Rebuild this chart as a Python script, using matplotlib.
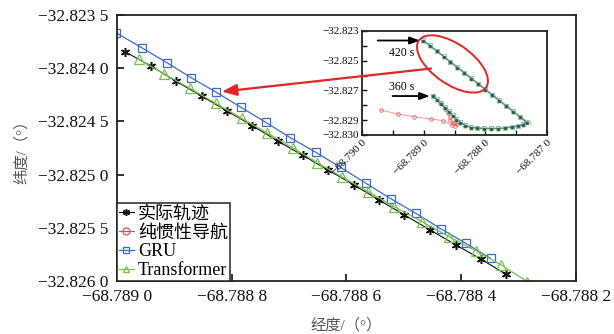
import matplotlib
matplotlib.use("Agg")
import matplotlib.pyplot as plt
from matplotlib.patches import Ellipse, ConnectionPatch
from matplotlib.transforms import IdentityTransform
from matplotlib.ticker import FixedLocator, FuncFormatter

plt.rcParams['font.family'] = ['Liberation Serif', 'Noto Sans CJK SC']

# ---------------- data (main view) ----------------
actual_lon = [-68.788986, -68.788941, -68.788897, -68.788852, -68.788809, -68.788764,
              -68.788720, -68.788676, -68.788632, -68.788587, -68.788543, -68.788499,
              -68.788454, -68.788410, -68.788366, -68.788322]
actual_lat = [-32.823845, -32.823979, -32.824123, -32.824264, -32.824399, -32.824540,
              -32.824684, -32.824820, -32.824957, -32.825098, -32.825239, -32.825380,
              -32.825521, -32.825659, -32.825793, -32.825937]

gru_lon = [-68.789002, -68.788957, -68.788913, -68.788871, -68.788827, -68.788784,
           -68.788741, -68.788698, -68.788653, -68.788610, -68.788566, -68.788523,
           -68.788479, -68.788436, -68.788392, -68.788349]
gru_lat = [-32.823666, -32.823807, -32.823948, -32.824089, -32.824226, -32.824367,
           -32.824508, -32.824653, -32.824792, -32.824933, -32.825082, -32.825226,
           -32.825364, -32.825508, -32.825646, -32.825787]

trans_lon = [-68.788962, -68.788918, -68.788873, -68.788828, -68.788783, -68.788739,
             -68.788694, -68.788651, -68.788607, -68.788562, -68.788517, -68.788468,
             -68.788421, -68.788375, -68.788331, -68.788285]
trans_lat = [-32.823916, -32.824054, -32.824189, -32.824330, -32.824471, -32.824606,
             -32.824747, -32.824888, -32.825025, -32.825161, -32.825302, -32.825443,
             -32.825584, -32.825715, -32.825848, -32.826005]

# ---------------- data (inset, 360 s - 420 s) ----------------
inset_actual_lon = [-68.788855, -68.788790, -68.788726, -68.788661, -68.788597, -68.788532,
                    -68.788468, -68.788403, -68.788323, -68.788226, -68.788129, -68.788016,
                    -68.787903, -68.787790, -68.787677, -68.787565, -68.787468, -68.787387,
                    -68.787323, -68.787436, -68.787548, -68.787661, -68.787774, -68.787887,
                    -68.788000, -68.788113, -68.788226, -68.788339, -68.788452, -68.788565,
                    -68.788677, -68.788790, -68.788903, -68.789016]
inset_actual_lat = [-32.827377, -32.827613, -32.827882, -32.828152, -32.828421, -32.828690,
                    -32.828960, -32.829162, -32.829364, -32.829498, -32.829532, -32.829566,
                    -32.829566, -32.829566, -32.829532, -32.829465, -32.829397, -32.829296,
                    -32.829162, -32.828791, -32.828421, -32.828051, -32.827680, -32.827310,
                    -32.826939, -32.826569, -32.826199, -32.825828, -32.825458, -32.825088,
                    -32.824717, -32.824347, -32.823976, -32.823640]

inset_gru_lon = [-68.788855, -68.788790, -68.788726, -68.788661, -68.788597, -68.788532,
                 -68.788468, -68.788403, -68.788323, -68.788226, -68.788129, -68.788016,
                 -68.787903, -68.787790, -68.787677, -68.787565, -68.787468, -68.787387,
                 -68.787340, -68.787436, -68.787548, -68.787661, -68.787774, -68.787887,
                 -68.788000, -68.788113, -68.788226, -68.788339, -68.788452, -68.788565,
                 -68.788677, -68.788790, -68.788903, -68.789016]
inset_gru_lat = [-32.827360, -32.827600, -32.827870, -32.828140, -32.828410, -32.828680,
                 -32.828950, -32.829150, -32.829350, -32.829490, -32.829525, -32.829560,
                 -32.829560, -32.829560, -32.829525, -32.829455, -32.829385, -32.829280,
                 -32.829140, -32.828775, -32.828405, -32.828035, -32.827665, -32.827295,
                 -32.826925, -32.826555, -32.826185, -32.825815, -32.825445, -32.825075,
                 -32.824705, -32.824335, -32.823965, -32.823625]

inset_trans_lon = [-68.788855, -68.788790, -68.788726, -68.788661, -68.788597, -68.788532,
                   -68.788468, -68.788403, -68.788323, -68.788226, -68.788129, -68.788016,
                   -68.787903, -68.787790, -68.787677, -68.787565, -68.787468, -68.787387,
                   -68.787300, -68.787436, -68.787548, -68.787661, -68.787774, -68.787887,
                   -68.788000, -68.788113, -68.788226, -68.788339, -68.788452, -68.788565,
                   -68.788677, -68.788790, -68.788903, -68.789016]
inset_trans_lat = [-32.827385, -32.827620, -32.827890, -32.828160, -32.828430, -32.828700,
                   -32.828970, -32.829170, -32.829370, -32.829505, -32.829540, -32.829570,
                   -32.829570, -32.829570, -32.829540, -32.829470, -32.829400, -32.829300,
                   -32.829130, -32.828790, -32.828420, -32.828050, -32.827680, -32.827310,
                   -32.826940, -32.826570, -32.826200, -32.825830, -32.825460, -32.825090,
                   -32.824720, -32.824350, -32.823980, -32.823650]

ins_lon = [-68.788855, -68.788742, -68.788661, -68.788613, -68.788581, -68.788565,
           -68.788532, -68.788484, -68.788452, -68.788500, -68.788548, -68.788694,
           -68.788887, -68.789161, -68.789419, -68.789694]
ins_lat = [-32.827377, -32.827815, -32.828219, -32.828488, -32.828758, -32.828993,
           -32.829195, -32.829364, -32.829263, -32.829162, -32.829330, -32.829027,
           -32.828926, -32.828758, -32.828589, -32.828320]

labels = ['实际轨迹', '纯惯性导航', 'GRU', 'Transformer']
main_xticks = [-68.7890, -68.7888, -68.7886, -68.7884, -68.7882]
main_yticks = [-32.8260, -32.8255, -32.8250, -32.8245, -32.8240, -32.8235]
inset_xticks = [-68.7900, -68.7895, -68.7890, -68.7885, -68.7880, -68.7875, -68.7870]
inset_xlabeled = [-68.7900, -68.7890, -68.7880, -68.7870]
inset_yticks = [-32.830, -32.829, -32.828, -32.827, -32.826, -32.825, -32.824, -32.823]
inset_ylabeled = [-32.830, -32.829, -32.827, -32.825, -32.823]

C_BLACK = '#111111'
C_RED = '#e8474a'
C_BLUE = '#3d6cc4'
C_GREEN = '#78c04f'
STAR = (6, 2, 0)


def fmt4(v, pos=None):
    s = f"{v:.4f}".replace('-', '\u2212')
    return s[:-1] + ' ' + s[-1]


fig = plt.figure(figsize=(6.14, 3.34), dpi=100)
ax = fig.add_axes([117 / 614, 53 / 334, 459 / 614, 266 / 334])

ax.plot(actual_lon, actual_lat, color=C_BLACK, lw=0.8, marker=STAR, ms=6.5, mew=1.1,
        mec=C_BLACK, label=labels[0])
ax.plot(ins_lon, ins_lat, color=C_RED, lw=0.8, marker='o', ms=6, mfc='none', mec=C_RED,
        mew=0.9, label=labels[1])
ax.plot(gru_lon, gru_lat, color=C_BLUE, lw=0.9, marker='s', ms=6, mfc='none', mec=C_BLUE,
        mew=0.9, label=labels[2])
ax.plot(trans_lon, trans_lat, color=C_GREEN, lw=0.9, marker='^', ms=7, mfc='none',
        mec=C_GREEN, mew=0.9, label=labels[3])

ax.set_xlim(-68.7890, -68.7882)
ax.set_ylim(-32.8260, -32.8235)
ax.xaxis.set_major_locator(FixedLocator(main_xticks))
ax.yaxis.set_major_locator(FixedLocator(main_yticks))
ax.xaxis.set_major_formatter(FuncFormatter(fmt4))
ax.yaxis.set_major_formatter(FuncFormatter(fmt4))
ax.tick_params(direction='in', length=5, width=1.2, labelsize=12.5, pad=6,
               top=False, right=False, colors='#111111')
for sp in ax.spines.values():
    sp.set_linewidth(1.3)
    sp.set_color('#222222')

ax.set_xlabel('经度/（°）', fontsize=11, color='#555555', labelpad=9)
ax.set_ylabel('纬度/（°）', fontsize=11, color='#555555', labelpad=7)

leg = ax.legend(loc='lower left', bbox_to_anchor=(0, 0), borderaxespad=0,
                fontsize=13, handlelength=0.8, handletextpad=0.25, borderpad=0.12,
                labelspacing=0.1, fancybox=False, framealpha=1, edgecolor='#222222')
leg.get_frame().set_linewidth(1.1)
for h in leg.legend_handles:
    h.set_markersize(5)

# ---------------- inset ----------------
ins = fig.add_axes([362 / 614, (334 - 135) / 334, 185 / 614, 104 / 334])
ins.plot(ins_lon, ins_lat, color='#f29a9a', lw=0.7, marker='o', ms=2.6, mfc='none',
         mec='#e86060', mew=0.6, zorder=2)
ins.plot(inset_gru_lon, inset_gru_lat, color='#7fa2dc', lw=1.2, marker='s', ms=2.4,
         mfc='none', mec='#7fa2dc', mew=0.6, zorder=3)
ins.plot(inset_trans_lon, inset_trans_lat, color='#8fcf6a', lw=1.0, marker='^', ms=2.4,
         mfc='none', mec='#8fcf6a', mew=0.6, zorder=4)
ins.plot(inset_actual_lon, inset_actual_lat, color='#4a7a5a', lw=0.5, marker=STAR, ms=2.0,
         mew=0.7, mec='#2f5a45', zorder=5)

ins.set_xlim(-68.7900, -68.7870)
ins.set_ylim(-32.8300, -32.8230)
ins.xaxis.set_major_locator(FixedLocator(inset_xticks))
ins.yaxis.set_major_locator(FixedLocator(inset_yticks))


def inset_xfmt(v, pos=None):
    if any(abs(v - t) < 1e-7 for t in inset_xlabeled):
        return fmt4(v)
    return ''


def inset_yfmt(v, pos=None):
    if any(abs(v - t) < 1e-7 for t in inset_ylabeled):
        return f"{v:.3f}".replace('-', '\u2212')
    return ''


ins.xaxis.set_major_formatter(FuncFormatter(inset_xfmt))
ins.yaxis.set_major_formatter(FuncFormatter(inset_yfmt))
ins.tick_params(direction='in', length=3.5, width=1.0, labelsize=8, pad=2,
                top=False, right=False, colors='#111111')
for lab in ins.get_xticklabels():
    lab.set_rotation(45)
    lab.set_ha('right')
    lab.set_va('top')
    lab.set_rotation_mode('anchor')
for sp in ins.spines.values():
    sp.set_linewidth(1.3)
    sp.set_color('#222222')

# time arrows
ins.annotate('', xy=(inset_actual_lon[-1], inset_actual_lat[-1]), xycoords='data',
             xytext=(-45, 0), textcoords='offset pixels',
             arrowprops=dict(arrowstyle='-|>,head_length=0.6,head_width=0.22', color='k',
                             lw=1.3, shrinkA=0, shrinkB=2))
ins.annotate('', xy=(inset_actual_lon[0], inset_actual_lat[0]), xycoords='data',
             xytext=(-40, 0), textcoords='offset pixels',
             arrowprops=dict(arrowstyle='-|>,head_length=0.6,head_width=0.22', color='k',
                             lw=1.3, shrinkA=0, shrinkB=2))
ins.text(0.215, 0.79, '420 s', transform=ins.transAxes, fontsize=8.5, ha='center',
         va='center')
ins.text(0.215, 0.46, '360 s', transform=ins.transAxes, fontsize=8.5, ha='center',
         va='center')

# red ellipse + arrow
fig.canvas.draw()
cx, cy = ins.transAxes.transform((0.489, 0.683))
ell = Ellipse((cx, cy), width=82, height=40, angle=-35, fill=False, edgecolor='#e02525',
              lw=1.4, transform=IdentityTransform(), zorder=10)
fig.add_artist(ell)

con = ConnectionPatch(xyA=(0.373, 0.639), coordsA=ins.transAxes,
                      xyB=(gru_lon[4], gru_lat[4]), coordsB=ax.transData,
                      arrowstyle='-|>,head_length=0.9,head_width=0.35', color='#e02525',
                      lw=1.6, shrinkA=0, shrinkB=4, zorder=10)
fig.add_artist(con)

fig.savefig('out.png', dpi=100)
